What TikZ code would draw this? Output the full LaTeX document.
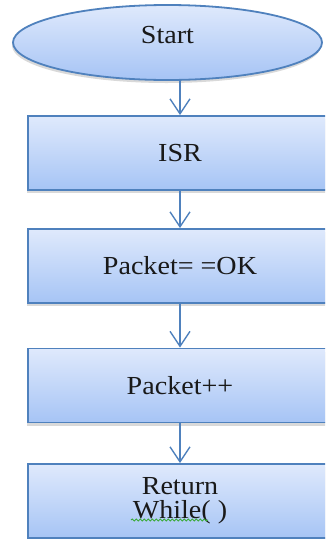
\documentclass[tikz,border=0pt]{standalone}
\usepackage{fontspec}
\setmainfont{Liberation Serif}[FakeStretch=1.08]
\usetikzlibrary{shapes.geometric,arrows.meta,shadows,decorations.pathmorphing}
\definecolor{bord}{RGB}{79,129,189}
\definecolor{ctop}{RGB}{223,233,252}
\definecolor{cbot}{RGB}{166,196,245}
\definecolor{spell}{RGB}{60,170,60}
\tikzset{
  txt/.style={font=\fontsize{26}{24}\selectfont, text=black!90},
  box/.style={txt, draw=bord, line width=1.8pt, top color=ctop, bottom color=cbot,
    minimum width=304pt, minimum height=74pt, inner sep=0pt, align=center,
    drop shadow={shadow xshift=-1pt, shadow yshift=-3pt, opacity=0.25, fill=black!60}},
  oval/.style={txt, ellipse, draw=bord, line width=1.8pt, top color=ctop, bottom color=cbot,
    minimum width=309pt, minimum height=75pt, inner sep=0pt, text depth=16pt,
    drop shadow={shadow xshift=-1pt, shadow yshift=-3pt, opacity=0.25, fill=black!60}},
  arr/.style={draw=bord, line width=1.4pt, -{Straight Barb[length=15pt,width=20pt,line width=1.4pt]}},
}
\begin{document}
\begin{tikzpicture}[x=1pt,y=-1pt]
\useasboundingbox (0,0) rectangle (325,539);
\clip (0,0) rectangle (325,539);
\node[oval] (start) at (167.5,42.5) {Start};
\node[box] (isr) at (180,153) {ISR};
\node[box] (ok) at (180,266) {Packet= =OK};
\node[box] (inc) at (180,385.5) {Packet++};
\node[box] (ret) at (180,501) {Return\\While( )};
\draw[arr] (isr.north |- start.south) -- (isr.north);
\draw[arr] (isr.south) -- (ok.north);
\draw[arr] (ok.south) -- (inc.north);
\draw[arr] (inc.south) -- (ret.north);
\draw[spell, line width=0.9pt, decorate, decoration={snake, amplitude=1pt, segment length=4pt}]
  ([xshift=-49pt,yshift=-19pt]ret.center) coordinate (wl) -- ++(77pt,0pt) coordinate (wr);
\end{tikzpicture}
\end{document}
